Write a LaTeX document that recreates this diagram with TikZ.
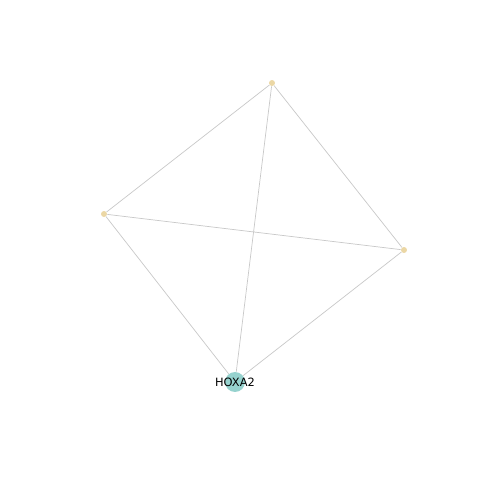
\documentclass[tikz,border=0pt]{standalone}
\usepackage{fontspec}
\setmainfont{DejaVu Sans}
\definecolor{hubteal}{RGB}{150,210,206}
\definecolor{leafwheat}{RGB}{235,215,165}
\definecolor{edgegray}{RGB}{200,200,200}
\tikzset{
    gene/.style={%
        circle, fill=#1, inner sep=0pt,
        minimum size=0.12cm
        },
    gene/.default=leafwheat,
    hub/.style={%
        gene=hubteal, minimum size=0.4cm
        },
    link/.style={draw=edgegray, line width=0.4pt}
}

\begin{document}
\begin{tikzpicture}

\useasboundingbox (0,0) rectangle (9.6,9.6);

\node[gene] (G1) at (5.44,7.94) {};

\node[gene] (G2) at (2.08,5.32) {};

\node[gene] (G3) at (8.08,4.60) {};

\node[hub] (HOXA2) at (4.70,1.96) {};

\path[link] (G1) -- (G2) (G1) -- (G3) (G1) -- (HOXA2)
            (G2) -- (G3) (G2) -- (HOXA2) (G3) -- (HOXA2);

\node[font=\fontsize{6.5}{7}\selectfont] at (HOXA2) {HOXA2};

\end{tikzpicture}
\end{document}
